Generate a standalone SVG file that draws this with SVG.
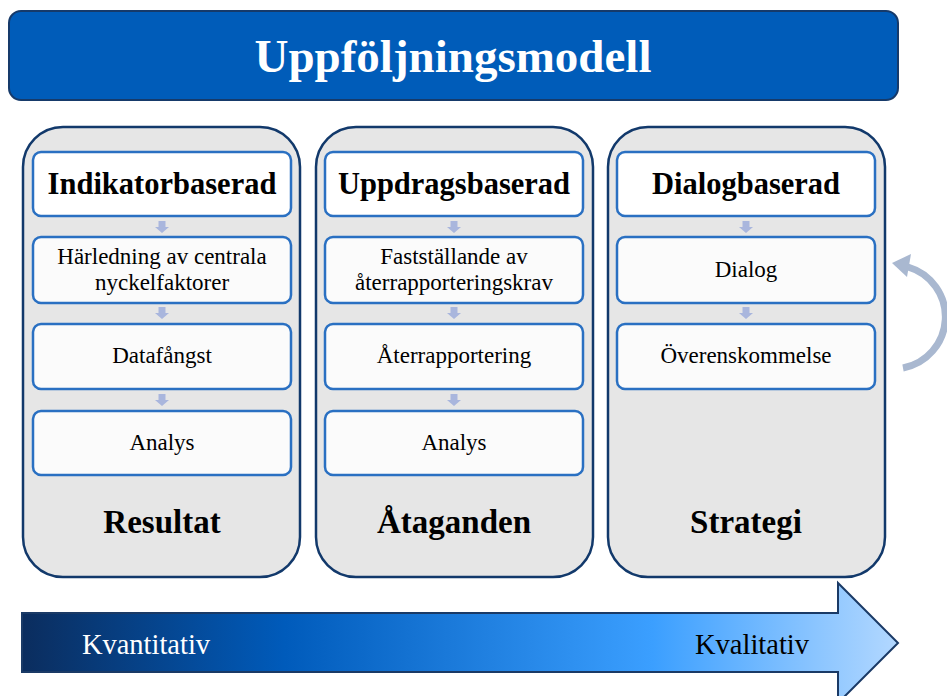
<svg xmlns="http://www.w3.org/2000/svg" width="947" height="696" viewBox="0 0 947 696">
<defs>
<linearGradient id="g" x1="0" y1="0" x2="1" y2="0">
<stop offset="0" stop-color="#0b2d5e"/>
<stop offset="0.3" stop-color="#005bbb"/>
<stop offset="0.72" stop-color="#3b9fff"/>
<stop offset="1" stop-color="#b3d8ff"/>
</linearGradient>
<style>
.col{fill:#e6e6e6;stroke:#12396b;stroke-width:2.5}
.box{fill:#fbfbfb;stroke:#2a70c2;stroke-width:2.5}
.hbox{fill:#ffffff;stroke:#2a70c2;stroke-width:2.5}
.t{font-family:"Liberation Serif","Times New Roman",serif;fill:#000;text-anchor:middle}
.h{font-size:30.5px;font-weight:bold}
.b{font-size:23px}
.f{font-size:33px;font-weight:bold}
.da{fill:#a9b6dd}
</style>
</defs>
<g id="title">
<rect x="9" y="11" width="889" height="89" rx="12" fill="#005cb9" stroke="#163a6a" stroke-width="2"/>
<text x="453" y="72" class="t" style="font-size:47px;font-weight:bold;fill:#fff">Uppföljningsmodell</text>
</g>
<g id="col-resultat">
<rect class="col" x="23" y="127" width="277" height="450" rx="40"/>
<rect class="hbox" x="33" y="152" width="258" height="64" rx="8"/>
<text class="t h" x="162" y="194">Indikatorbaserad</text>
<rect class="box" x="33" y="237" width="258" height="66" rx="8"/>
<text class="t b" x="162" y="264">Härledning av centrala</text>
<text class="t b" x="162" y="290">nyckelfaktorer</text>
<rect class="box" x="33" y="324" width="258" height="65" rx="8"/>
<text class="t b" x="162" y="363">Datafångst</text>
<rect class="box" x="33" y="411" width="258" height="64" rx="8"/>
<text class="t b" x="162" y="450">Analys</text>
<text class="t f" x="162" y="533">Resultat</text>
</g>
<g id="col-ataganden">
<rect class="col" x="316" y="127" width="277" height="450" rx="40"/>
<rect class="hbox" x="325" y="152" width="258" height="64" rx="8"/>
<text class="t h" x="454" y="194">Uppdragsbaserad</text>
<rect class="box" x="325" y="237" width="258" height="66" rx="8"/>
<text class="t b" x="454" y="264">Fastställande av</text>
<text class="t b" x="454" y="290">återrapporteringskrav</text>
<rect class="box" x="325" y="324" width="258" height="65" rx="8"/>
<text class="t b" x="454" y="363">Återrapportering</text>
<rect class="box" x="325" y="411" width="258" height="64" rx="8"/>
<text class="t b" x="454" y="450">Analys</text>
<text class="t f" x="454" y="533">Åtaganden</text>
</g>
<g id="col-strategi">
<rect class="col" x="608" y="127" width="277" height="450" rx="40"/>
<rect class="hbox" x="617" y="152" width="258" height="64" rx="8"/>
<text class="t h" x="746" y="194">Dialogbaserad</text>
<rect class="box" x="617" y="237" width="258" height="66" rx="8"/>
<text class="t b" x="746" y="277">Dialog</text>
<rect class="box" x="617" y="324" width="258" height="65" rx="8"/>
<text class="t b" x="746" y="363">Överenskommelse</text>
<text class="t f" x="746" y="533">Strategi</text>
</g>
<g id="connectors">
<path class="da" d="M158.5 221h7v6h3.5l-7 6l-7-6h3.5z"/>
<path class="da" d="M158.5 307h7v6h3.5l-7 6l-7-6h3.5z"/>
<path class="da" d="M158.5 394h7v6h3.5l-7 6l-7-6h3.5z"/>
<path class="da" d="M450.5 221h7v6h3.5l-7 6l-7-6h3.5z"/>
<path class="da" d="M450.5 307h7v6h3.5l-7 6l-7-6h3.5z"/>
<path class="da" d="M450.5 394h7v6h3.5l-7 6l-7-6h3.5z"/>
<path class="da" d="M742.5 221h7v6h3.5l-7 6l-7-6h3.5z"/>
<path class="da" d="M742.5 307h7v6h3.5l-7 6l-7-6h3.5z"/>
<path d="M903 368 A52 52 0 0 0 908 267" fill="none" stroke="#a9b8d0" stroke-width="7"/>
<polygon points="892,263 911,254 907,277" fill="#a9b8d0"/>
</g>
<g id="scale-arrow">
<polygon points="22,613 838,613 838,583 898,643 838,703 838,672 22,672" fill="url(#g)" stroke="#1a3a66" stroke-width="2"/>
<text x="146" y="654" class="t" style="font-size:28.5px;fill:#fff">Kvantitativ</text>
<text x="752" y="654" class="t" style="font-size:28.5px">Kvalitativ</text>
</g>
</svg>
